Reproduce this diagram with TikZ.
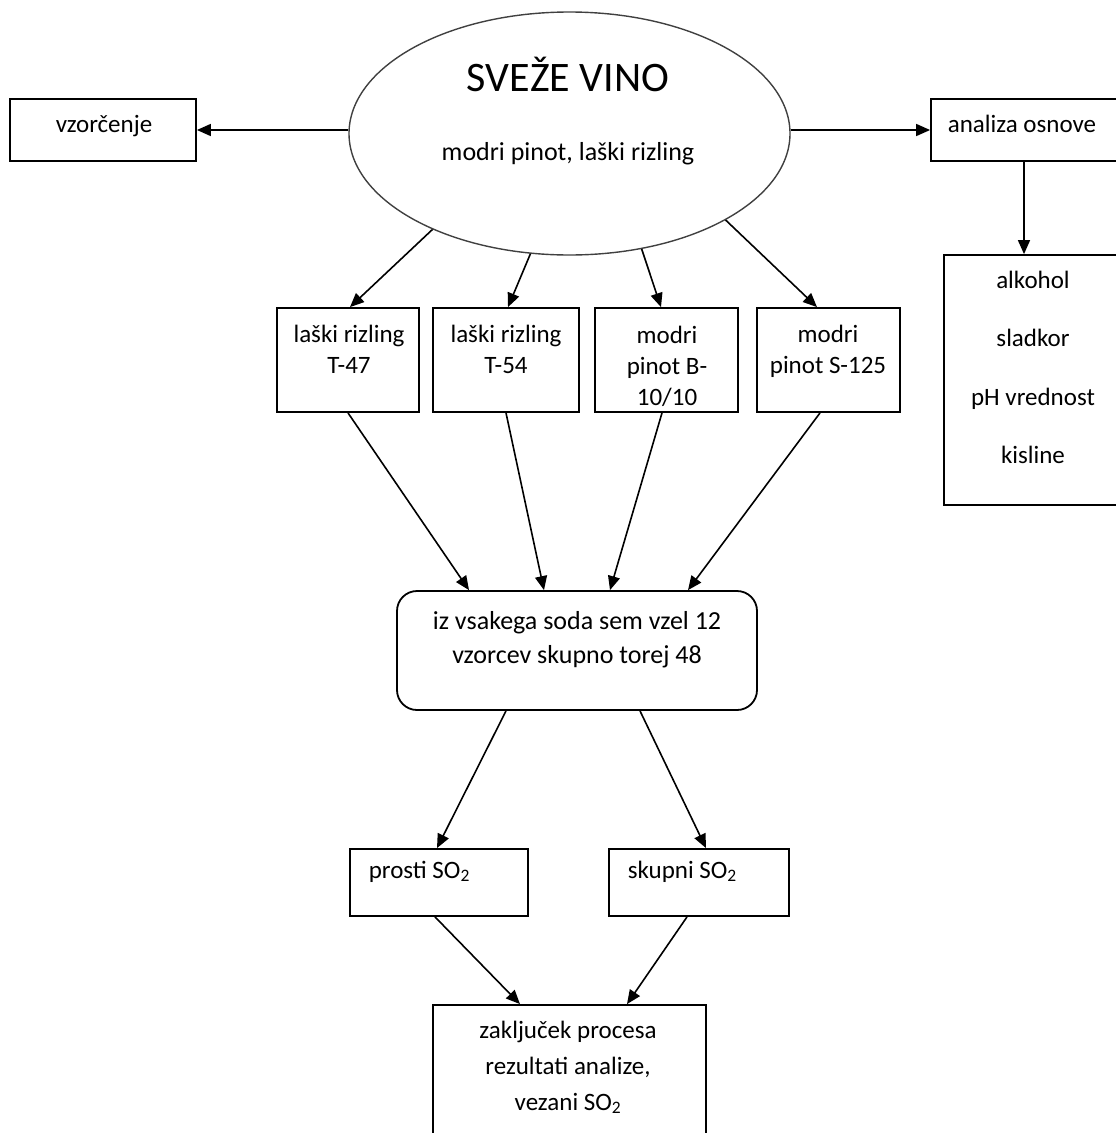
\documentclass[tikz,border=0pt]{standalone}
\usepackage{fontspec}
\setmainfont{Carlito}
\usetikzlibrary{shapes.geometric,arrows.meta}
\tikzset{
  box/.style={draw, line width=1.8pt, inner sep=0pt},
  txt/.style={inner sep=0pt, anchor=base, align=center, font=\fontsize{25}{31}\selectfont},
}
\begin{document}
\begin{tikzpicture}[x=1pt, y=-1pt, line width=1.6pt, >={Triangle[length=14pt,width=12pt]}]
  \useasboundingbox (0,0) rectangle (1116,1133);
  \clip (0,0) rectangle (1116,1133);
  % wine and the two side boxes
  \node[ellipse, draw=black!75, line width=1.4pt, minimum width=441pt, minimum height=243pt, inner sep=0pt] (vino) at (569.5,133.5) {};
  \node[txt, font=\fontsize{42}{48}\selectfont] (vinot) at (568,91) {SVEŽE VINO};
  \node[txt, font=\fontsize{26}{31}\selectfont] (sorte) at (568,160) {modri pinot, laški rizling};
  \node[box, minimum width=186pt, minimum height=62pt] (vz) at (103,130) {};
  \node[txt] (vzt) at (104,132) {vzorčenje};
  \node[box, minimum width=200pt, minimum height=62pt] (an) at (1031,130) {};
  \node[txt] (ant) at (1022,132) {analiza osnove};
  \node[box, minimum width=200pt, minimum height=250pt] (par) at (1044,380) {};
  % (base of a text in lines = base of its last line)
  \node[txt, font=\fontsize{25}{58.5}\selectfont] (part) at (1033,463.5) {alkohol\\sladkor\\pH vrednost\\kisline};
  % the four barrels
  \node[box, minimum width=142pt, minimum height=104pt] (b1) at (348,360) {};
  \node[box, minimum width=146pt, minimum height=104pt] (b2) at (506,360) {};
  \node[box, minimum width=143pt, minimum height=104pt] (b3) at (666.5,360) {};
  \node[box, minimum width=143pt, minimum height=104pt] (b4) at (828.5,360) {};
  \node[txt] (b1t) at (349,373) {laški rizling\\T-47};
  \node[txt] (b2t) at (506,373) {laški rizling\\T-54};
  \node[txt] (b3t) at (667,405) {modri\\pinot B-\\10/10};
  \node[txt] (b4t) at (828,373) {modri\\pinot S-125};
  % samples
  \node[box, rounded corners=20pt, minimum width=360pt, minimum height=119pt] (rb) at (577,650.5) {};
  \node[txt, font=\fontsize{26}{34}\selectfont] (rbt) at (577,663) {iz vsakega soda sem vzel 12\\vzorcev skupno torej 48};
  \node[box, minimum width=178pt, minimum height=67pt] (ps) at (439,882.5) {};
  \node[txt, anchor=base west] (pst) at (368,878) {prosti SO\textsubscript{2}};
  \node[box, minimum width=180pt, minimum height=67pt] (sk) at (699,882.5) {};
  \node[txt, anchor=base west] (skt) at (627,878) {skupni SO\textsubscript{2}};
  \node[box, minimum width=273pt, minimum height=145pt] (zk) at (569.5,1077.5) {};
  \node[txt, font=\fontsize{25}{36}\selectfont] (zkt) at (568,1110) {zaključek procesa\\rezultati analize,\\vezani SO\textsubscript{2}};
  % arrows
  \draw[->] (vino.west |- vz.east) -- (vz.east);
  \draw[->] (vino.east |- an.west) -- (an.west);
  \draw[->] ([xshift=-7pt]an.south) -- ([xshift=-7pt]an.south |- par.north);
  \draw[->] (vino.215.8) -- ([xshift=2pt]b1.north);
  \draw[->] (vino.252.8) -- ([xshift=2pt]b2.north);
  \draw[->] (vino.302.3) -- ([xshift=-5.5pt]b3.north);
  \draw[->] (vino.331) -- ([xshift=-11.5pt]b4.north);
  \draw[->] (b1.south) -- ([xshift=-108pt]rb.north);
  \draw[->] (b2.south) -- ([xshift=-33pt]rb.north);
  \draw[->] ([xshift=-4.5pt]b3.south) -- ([xshift=33pt]rb.north);
  \draw[->] ([xshift=-8.5pt]b4.south) -- ([xshift=111pt]rb.north);
  \draw[->] ([xshift=-71pt]rb.south) -- ([xshift=-2pt]ps.north);
  \draw[->] ([xshift=63pt]rb.south) -- ([xshift=7pt]sk.north);
  \draw[->] ([xshift=-4pt]ps.south) -- ([xshift=-49.5pt]zk.north);
  \draw[->] ([xshift=-12pt]sk.south) -- ([xshift=57.5pt]zk.north);
\end{tikzpicture}
\end{document}
